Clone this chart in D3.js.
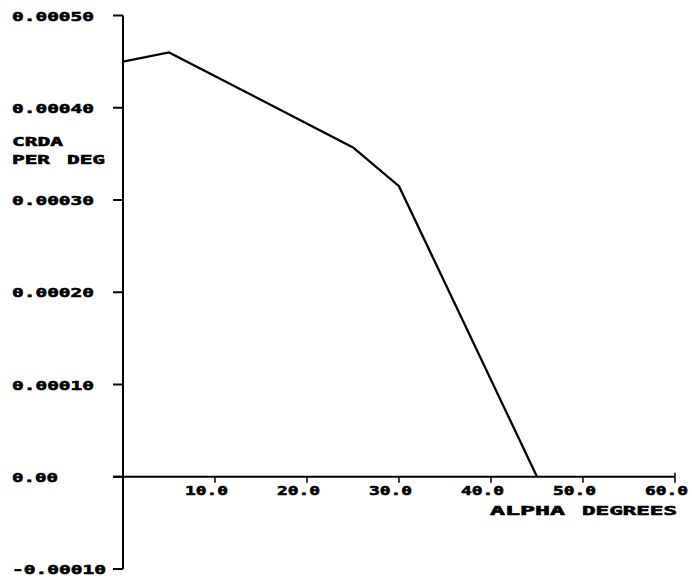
<!DOCTYPE html>
<html><head><meta charset="utf-8">
<script src="https://cdn.jsdelivr.net/npm/d3@7"></script>
<style>
html,body{margin:0;padding:0;background:#fff;}
text{font-family:"DejaVu Sans Mono",monospace;font-weight:bold;fill:#000;stroke:#000;stroke-width:0.6px;}
</style></head>
<body>
<svg id="c" width="692" height="580"></svg>
<script>
const alphaDeg = [0, 5, 25, 30, 45];
const crda = [0.00045, 0.00046, 0.000357, 0.000315, 0.0];
const yTicks = [0.0005, 0.0004, 0.0003, 0.0002, 0.0001, 0.0, -0.0001];
const yTickLabels = ["0.00050", "0.00040", "0.00030", "0.00020", "0.00010", "0.00", "-0.00010"];
const xTicks = [10, 20, 30, 40, 50, 60];
const xTickLabels = ["10.0", "20.0", "30.0", "40.0", "50.0", "60.0"];

const svg = d3.select("#c");
const x = d3.scaleLinear().domain([0, 60]).range([123, 675]);
const y = d3.scaleLinear().domain([-0.0001, 0.0005]).range([569, 15.5]);

// Y axis line
svg.append("line").attr("x1", x(0)).attr("x2", x(0)).attr("y1", y(0.0005)).attr("y2", y(-0.0001))
  .attr("stroke", "#000").attr("stroke-width", 2);
// Y ticks
svg.selectAll(".yt").data(yTicks).enter().append("line")
  .attr("x1", x(0) - 10).attr("x2", x(0)).attr("y1", d => y(d)).attr("y2", d => y(d))
  .attr("stroke", "#000").attr("stroke-width", 2);
// Y labels
svg.selectAll(".yl").data(yTicks).enter().append("text")
  .attr("x", 12).attr("y", d => y(d) + 5)
  .attr("font-size", 13)
  .attr("textLength", (d, i) => yTickLabels[i].length * 12 - 2)
  .attr("lengthAdjust", "spacingAndGlyphs")
  .text((d, i) => yTickLabels[i]);

// X axis line
svg.append("line").attr("x1", x(0) - 10).attr("x2", x(60)).attr("y1", y(0)).attr("y2", y(0))
  .attr("stroke", "#000").attr("stroke-width", 2);
// X ticks
svg.selectAll(".xt").data(xTicks).enter().append("line")
  .attr("x1", d => x(d)).attr("x2", d => x(d)).attr("y1", y(0)).attr("y2", y(0) + 6)
  .attr("stroke", "#000").attr("stroke-width", 1.5);
svg.append("line").attr("x1", x(60)).attr("x2", x(60)).attr("y1", y(0) - 4).attr("y2", y(0))
  .attr("stroke", "#000").attr("stroke-width", 1.5);
// X labels
svg.selectAll(".xl").data(xTicks).enter().append("text")
  .attr("x", d => x(d) - 30).attr("y", y(0) + 18.5)
  .attr("font-size", 13)
  .attr("textLength", 43)
  .attr("lengthAdjust", "spacingAndGlyphs")
  .text((d, i) => xTickLabels[i]);

// Axis titles
svg.append("text").attr("x", 490).attr("y", 514.5).attr("font-size", 13)
  .attr("textLength", 75).attr("lengthAdjust", "spacingAndGlyphs").text("ALPHA");
svg.append("text").attr("x", 582).attr("y", 514.5).attr("font-size", 13)
  .attr("textLength", 95).attr("lengthAdjust", "spacingAndGlyphs").text("DEGREES");
svg.append("text").attr("x", 12).attr("y", 145.5).attr("font-size", 13)
  .attr("textLength", 51).attr("lengthAdjust", "spacingAndGlyphs").text("CRDA");
svg.append("text").attr("x", 12).attr("y", 163.5).attr("font-size", 13)
  .attr("textLength", 38).attr("lengthAdjust", "spacingAndGlyphs").text("PER");
svg.append("text").attr("x", 67).attr("y", 163.5).attr("font-size", 13)
  .attr("textLength", 38).attr("lengthAdjust", "spacingAndGlyphs").text("DEG");

// Data line
const line = d3.line().x((d, i) => x(alphaDeg[i])).y(d => y(d));
svg.append("path").datum(crda).attr("d", line)
  .attr("fill", "none").attr("stroke", "#000").attr("stroke-width", 2.3);
</script>
</body></html>
